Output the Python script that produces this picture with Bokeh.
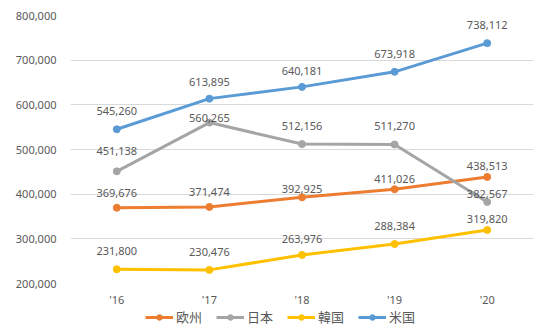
from bokeh.plotting import figure
from bokeh.layouts import column
from bokeh.models import (ColumnDataSource, FactorRange, FixedTicker, NumeralTickFormatter,
                          Legend, LegendItem, Range1d)
from bokeh.embed import file_html
from bokeh.resources import INLINE
from bokeh.core.properties import value

# ---- data ----
years = ["'16", "'17", "'18", "'19", "'20"]
series_names = ["欧州", "日本", "韓国", "米国"]
europe = [369676, 371474, 392925, 411026, 438513]
japan = [451138, 560265, 512156, 511270, 382567]
korea = [231800, 230476, 263976, 288384, 319820]
usa = [545260, 613895, 640181, 673918, 738112]
y_ticks = [200000, 300000, 400000, 500000, 600000, 700000, 800000]

# ---- styles ----
colors = ["#ED7D31", "#A5A5A5", "#FFC000", "#5B9BD5"]
label_lift = [
    [15, 15, 8, 10, 11],
    [20, 5, 18, 18, 8],
    [18, 18, 16, 18, 11],
    [18, 17, 16, 18, 18],
]
FONT = "Noto Sans"
TXT = "#595959"

p = figure(width=534, height=309, x_range=FactorRange(*years, range_padding=0),
           y_range=Range1d(200000, 800000), output_backend="svg", toolbar_location=None,
           min_border_left=70, min_border_right=1, min_border_top=15, min_border_bottom=22)
p.outline_line_color = None
p.background_fill_color = "white"
p.border_fill_color = "white"
p.xgrid.grid_line_color = None
p.ygrid.grid_line_color = "#D9D9D9"
p.ygrid.grid_line_width = 1

p.yaxis.ticker = FixedTicker(ticks=y_ticks)
p.yaxis.formatter = NumeralTickFormatter(format="0,0")
for ax in (p.xaxis[0], p.yaxis[0]):
    ax.axis_line_color = None
    ax.major_tick_line_color = None
    ax.minor_tick_line_color = None
    ax.major_tick_out = 0
    ax.minor_tick_out = 0
    ax.major_label_text_font = FONT
    ax.major_label_text_font_size = "11px"
    ax.major_label_text_color = TXT
p.yaxis.major_label_standoff = 14
p.xaxis.major_label_standoff = 8

all_series = [europe, japan, korea, usa]
for vals, col in zip(all_series, colors):
    src = ColumnDataSource(dict(x=years, y=vals))
    p.line("x", "y", source=src, line_color=col, line_width=3)
    p.scatter("x", "y", source=src, size=7, fill_color=col, line_color=col)

for vals, lifts in zip(all_series, label_lift):
    for i, v in enumerate(vals):
        src = ColumnDataSource(dict(x=[years[i]], y=[v], t=[f"{v:,}"]))
        p.text("x", "y", text="t", source=src, text_align="center", text_baseline="middle",
               y_offset=-lifts[i], text_font=value(FONT), text_font_size="11px", text_color=TXT)

# legend strip below the chart (glyphs sit outside the visible range; only the legend shows)
lf = figure(width=534, height=22, output_backend="svg", toolbar_location=None,
            x_range=Range1d(0, 1), y_range=Range1d(0, 1),
            x_axis_location=None, y_axis_location=None,
            min_border_left=0, min_border_right=0, min_border_top=0, min_border_bottom=0)
lf.outline_line_color = None
lf.xgrid.visible = False
lf.ygrid.visible = False
items = []
for name, col in zip(series_names, colors):
    r1 = lf.line(x=[-5, -4], y=[-5, -4], line_color=col, line_width=3)
    r2 = lf.scatter(x=[-5], y=[-5], size=7, fill_color=col, line_color=col)
    items.append(LegendItem(label=name, renderers=[r1, r2]))

legend = Legend(items=items, orientation="horizontal", location=(75, 5),
                glyph_width=28, glyph_height=14, label_height=14,
                label_text_font="Noto Sans CJK JP",
                label_text_font_size="13px", label_text_color=TXT, spacing=14,
                label_standoff=3, padding=0, margin=0, border_line_color=None,
                background_fill_alpha=0)
lf.add_layout(legend, "center")

layout = column(p, lf, spacing=0)
open("out.html", "w").write(file_html(layout, INLINE))
